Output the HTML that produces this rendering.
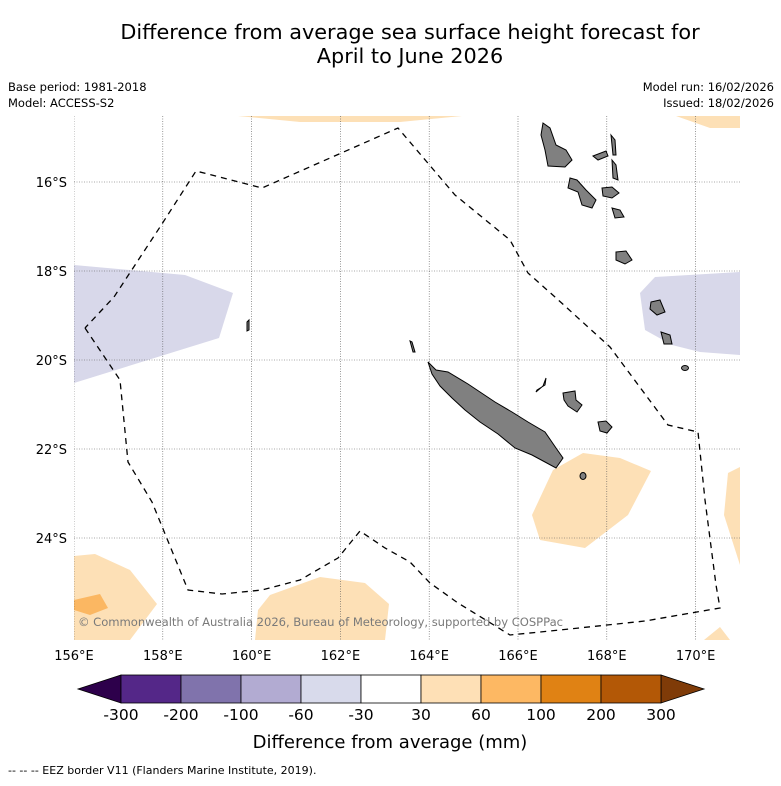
<!DOCTYPE html>
<html><head><meta charset="utf-8"><style>
body{margin:0;background:#fff;font-family:"Liberation Sans","DejaVu Sans",sans-serif}
svg text{font-family:"DejaVu Sans","Liberation Sans",sans-serif}
</style></head><body>
<svg id="c" width="781" height="781" xmlns="http://www.w3.org/2000/svg">
<rect width="781" height="781" fill="#fff"/>
<text x="410" y="39" font-size="20.8" text-anchor="middle">Difference from average sea surface height forecast for</text>
<text x="410" y="63" font-size="20.8" text-anchor="middle">April to June 2026</text>
<text x="8" y="91" font-size="11.5">Base period: 1981-2018</text>
<text x="8" y="107" font-size="11.5">Model: ACCESS-S2</text>
<text x="774" y="91" font-size="11.5" text-anchor="end">Model run: 16/02/2026</text>
<text x="774" y="107" font-size="11.5" text-anchor="end">Issued: 18/02/2026</text>
<defs><clipPath id="mc"><rect x="74" y="116" width="666" height="524"/></clipPath></defs>
<g id="map" clip-path="url(#mc)">
<g fill="#fde0b6">
<polygon points="238,116 300,122 400,122 462,116"/>
<polygon points="676,116 710,128 740,128 740,116"/>
<polygon points="74,556 95,554 130,570 157,604 130,640 74,640"/>
<polygon points="255,640 258,610 270,595 320,577 365,583 389,604 385,640"/>
<polygon points="532,515 553,470 583,453 620,458 651,471 628,515 585,548 540,540"/>
<polygon points="740,467 728,473 724,515 740,565"/>
<polygon points="704,640 720,627 730,640"/>
</g>
<polygon fill="#fbb762" points="74,600 100,594 108,608 90,615 74,610"/>
<g fill="#d8d8ea">
<polygon points="74,265 185,275 233,293 219,338 74,383"/>
<polygon points="640,293 655,277 740,272 740,355 700,352 672,345 645,330"/>
</g>
<g id="grid" stroke="#555" stroke-width="0.6" stroke-dasharray="1,1.5" fill="none"></g>
<g fill="#808080" stroke="#000" stroke-width="1">
<polygon points="428,362 436,370 448,372 468,384 480,392 495,402 512,412 528,422 545,432 556,448 563,458 556,468 545,462 532,455 515,448 498,434 480,422 465,410 452,398 440,386 432,374"/>
<polygon points="563,393 575,391 576,400 582,405 577,412 568,406 564,400"/>
<polygon points="598,422 606,421 612,427 607,433 600,431"/>
<polygon points="537,390 545,385 546,378 543,386 536,392"/>
<polygon points="543,123 550,128 556,145 566,150 572,160 565,167 548,166 545,150 541,135"/>
<polygon points="570,178 577,180 586,190 596,200 592,208 582,205 578,192 568,188"/>
<polygon points="602,188 612,187 619,193 612,198 603,196"/>
<polygon points="611,135 615,140 616,155 613,155"/>
<polygon points="593,156 606,151 608,156 598,160"/>
<polygon points="612,160 616,165 618,180 613,178"/>
<polygon points="612,208 620,210 624,217 615,218"/>
<polygon points="616,252 626,251 632,260 625,264 616,260"/>
<polygon points="651,302 660,300 665,312 657,315 650,309"/>
<polygon points="661,332 670,335 672,344 664,344"/>
<ellipse cx="685" cy="368" rx="3.5" ry="2.5"/>
<ellipse cx="583" cy="476" rx="3" ry="3.5"/>
<polygon points="247,322 249,320 249,330 247,331"/>
<polygon points="410,341 412,342 415,352 413,352"/>
</g>
<polyline id="eez" fill="none" stroke="#000" stroke-width="1.3" stroke-dasharray="6,5" points="85,328 120,380 128,462 152,502 188,590 222,594 262,590 300,580 338,558 360,531 385,548 410,562 430,583 458,603 510,635 560,630 645,621 720,608 716,585 705,500 698,432 668,425 610,347 555,297 528,273 510,240 455,195 398,128 262,188 196,171 160,227 114,297 85,328"/>
<text x="78" y="626" font-size="11.6" fill="#7a7a7a" textLength="485">© Commonwealth of Australia 2026, Bureau of Meteorology, supported by COSPPac</text>
</g>
<g id="ticks"></g>
<g id="cbar"></g>
<text x="390" y="748" font-size="18" text-anchor="middle">Difference from average (mm)</text>
<text x="8" y="774" font-size="11">--  --  -- EEZ border V11 (Flanders Marine Institute, 2019).</text>
</svg>
<script>
const lons=[156,158,160,162,164,166,168,170];
const lats=[16,18,20,22,24];
const cbBounds=["-300","-200","-100","-60","-30","30","60","100","200","300"];
const cbColors=["#542788","#8073ac","#b2abd2","#d8daeb","#ffffff","#fee0b6","#fdb863","#e08214","#b35806"];
const ns="http://www.w3.org/2000/svg";
const X=lon=>74+(lon-156)*44.4, Y=lat=>182+(lat-16)*44.5;
function mk(t,a,p){const e=document.createElementNS(ns,t);for(const k in a)e.setAttribute(k,a[k]);p.appendChild(e);return e;}
const grid=document.getElementById('grid'),ticks=document.getElementById('ticks');
lons.forEach(l=>{
  const ln=mk('line',{x1:X(l),x2:X(l),y1:116,y2:640},grid);
  
  
  const t=mk('text',{x:X(l),y:660,'font-size':13,'text-anchor':'middle'},ticks);
  t.textContent=l+'°E';
  
  
});
lats.forEach(l=>{
  const ln=mk('line',{x1:74,x2:740,y1:Y(l),y2:Y(l)},grid);
  
  
  const t=mk('text',{x:67,y:Y(l)+5,'font-size':13,'text-anchor':'end'},ticks);
  t.textContent=l+'°S';
  
  
});
const cb=document.getElementById('cbar');
const x0=121,w=60,y0=675,h=28;
const lt=mk('polygon',{points:`${x0},${y0} 78,${y0+h/2} ${x0},${y0+h}`,fill:'#2d004b',stroke:'#000','stroke-width':0.8},cb);


const xe=x0+w*cbColors.length;
const rt=mk('polygon',{points:`${xe},${y0} 704,${y0+h/2} ${xe},${y0+h}`,fill:'#7f3b08',stroke:'#000','stroke-width':0.8},cb);


cbColors.forEach((c,i)=>{
  const r=mk('rect',{x:x0+i*w,y:y0,width:w,height:h,fill:c,stroke:'#000','stroke-width':0.8},cb);
  
  
});
cbBounds.forEach((b,i)=>{
  const t=mk('text',{x:x0+i*w,y:720,'font-size':15.5,'text-anchor':'middle'},cb);
  t.textContent=b;
  
  
});
</script>
</body></html>
